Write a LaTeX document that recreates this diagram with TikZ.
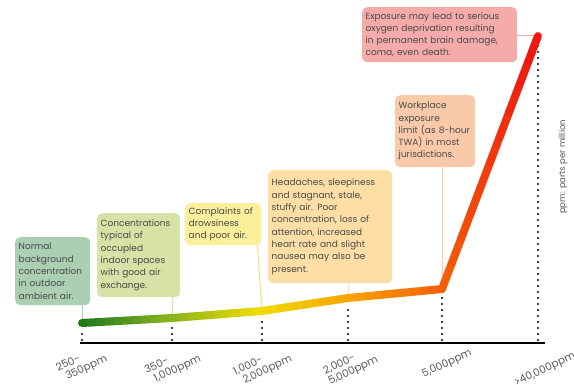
\documentclass[tikz,border=0pt]{standalone}
\usepackage{fontspec}
\setmainfont{Poppins}
\usetikzlibrary{calc}
\definecolor{txt}{HTML}{4A4A4A}
\definecolor{lbl}{HTML}{5A5A5A}
\definecolor{fa}{HTML}{AACFB3}
\definecolor{fb}{HTML}{D6E2A6}
\definecolor{fc}{HTML}{FAF09C}
\definecolor{fd}{HTML}{FDDFA5}
\definecolor{fe}{HTML}{FAC9AA}
\definecolor{ff}{HTML}{F6ABAB}
\definecolor{ga}{HTML}{1C761C}
\definecolor{gb}{HTML}{86B41C}
\definecolor{gc}{HTML}{F0DC00}
\definecolor{gd}{HTML}{F8A600}
\definecolor{ge}{HTML}{F46208}
\definecolor{gf}{HTML}{EE1414}
\begin{document}
\begin{tikzpicture}[x=1pt,y=-1pt,
  box/.style={rounded corners=5pt, inner xsep=3.5pt, inner ysep=4pt, align=left, text=txt,
    font=\fontsize{9}{12.3}\selectfont, anchor=north west},
  conn/.style={line width=1pt},
  dots/.style={line width=2.4pt, line cap=round, dash pattern=on 0pt off 6pt},
  curve/.style={line width=8pt, line cap=round},
  tick/.style={text=lbl, font=\fontsize{10.5}{11.5}\selectfont, align=left, rotate=25}]
\useasboundingbox (0,0) rectangle (574,385);

% curve points
\coordinate (p0) at (82,323);
\coordinate (p1) at (172,318);
\coordinate (p2) at (262,311);
\coordinate (p3) at (348,298);
\coordinate (p4) at (442,289);
\coordinate (p5) at (538,36);

% axis ends
\coordinate (ax0) at (80,343);
\coordinate (ax1) at (545,343);

% boxes
\node[box, fill=fa, minimum width=75pt, minimum height=68pt, text width=68pt] (b1) at (15,237)
  {Normal\\background\\concentration\\in outdoor\\ambient air.};
\node[box, fill=fb, minimum width=83pt, minimum height=84pt, text width=76pt] (b2) at (97,213)
  {Concentrations\\typical of\\occupied\\indoor spaces\\with good air\\exchange.};
\node[box, fill=fc, minimum width=76pt, minimum height=42pt, text width=69pt] (b3) at (185,203)
  {Complaints of\\drowsiness\\and poor air.};
\node[box, fill=fd, minimum width=124pt, minimum height=113pt, text width=117pt] (b4) at (268,170)
  {Headaches, sleepiness\\and stagnant, stale,\\stuffy air. Poor\\concentration, loss of\\attention, increased\\heart rate and slight\\nausea may also be\\present.};
\node[box, fill=fe, minimum width=80pt, minimum height=72pt, text width=73pt] (b5) at (395,95)
  {Workplace\\exposure\\\mbox{limit (as 8-hour}\\TWA) in most\\jurisdictions.};
\node[box, fill=ff, minimum width=155pt, minimum height=55pt, text width=148pt] (b6) at (362,7)
  {Exposure may lead to serious\\oxygen deprivation resulting\\in permanent brain damage,\\coma, even death.};

% connectors
\draw[conn, fa] (b1.south -| p0) -- (p0);
\draw[conn, fb] (b2.south -| p1) -- (p1);
\draw[conn, fc!80!orange] ($(b3.south east)+(-4,0)$) -- (p2);
\draw[conn, fd] (b4.south -| p3) -- (p3);
\draw[conn, fe] (b5.south -| p4) -- (p4);
\draw[conn, ff] (b6.east |- p5) -- (p5);

% dotted verticals
\foreach \p/\t in {p0/331, p1/326, p2/319, p3/306, p4/297, p5/44}{
  \draw[dots] ($(\p |- ax0)+(0,-3)$) -- (\p |- 0,\t);
}

% axis
\draw[line width=1.6pt] (ax0) -- (ax1);

% gradient curve
\foreach \a/\b/\ca/\cb in {p0/p1/ga/gb, p1/p2/gb/gc, p2/p3/gc/gd, p3/p4/gd/ge, p4/p5/ge/gf}{
  \foreach \k in {0,...,9}{
    \pgfmathsetmacro\s{\k/10}
    \pgfmathsetmacro\e{(\k+1)/10}
    \pgfmathtruncatemacro\m{95-\k*10}
    \draw[curve, color=\ca!\m!\cb] ($(\a)!\s!(\b)$) -- ($(\a)!\e!(\b)$);
  }
}

% tick labels
\node[tick] (t0) at (82,364) {250-\\\hspace*{5pt}350ppm};
\node[tick] (t1) at (173,365) {350-\\\hspace*{5pt}1,000ppm};
\node[tick] (t2) at (263,366) {1,000-\\\hspace*{5pt}2,000ppm};
\node[tick] (t3) at (351,366) {2,000-\\5,000ppm};
\node[tick] (t4) at (447,364) {5,000ppm};
\node[tick] (t5) at (545,370) {>40,000ppm};

% units
\node[rotate=90, text=lbl, font=\fontsize{8.5}{10}\selectfont] (u) at (563,167) {ppm: parts per million};
\end{tikzpicture}
\end{document}
